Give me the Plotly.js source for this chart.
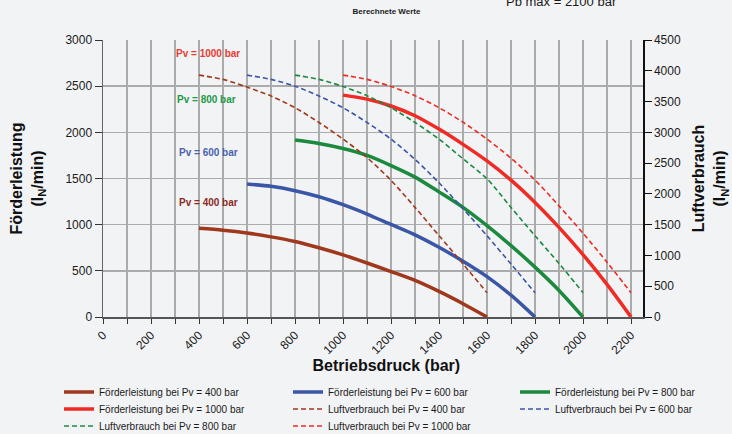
<!DOCTYPE html>
<html>
<head>
<meta charset="utf-8">
<script src="https://cdn.plot.ly/plotly-3.0.1.min.js"></script>
<style>html,body{margin:0;padding:0;background:#f2f3f5;}</style>
</head>
<body>
<div id="chart" style="width:732px;height:434px;"></div>
<script>
// ---- Data ----
// Betriebsdruck (bar) for each curve
const xPv400  = [400, 500, 600, 700, 800, 900, 1000, 1100, 1200, 1300, 1400, 1500, 1600];
const xPv600  = [600, 700, 800, 900, 1000, 1100, 1200, 1300, 1400, 1500, 1600, 1700, 1800];
const xPv800  = [800, 900, 1000, 1100, 1200, 1300, 1400, 1500, 1600, 1700, 1800, 1900, 2000];
const xPv1000 = [1000, 1100, 1200, 1300, 1400, 1500, 1600, 1700, 1800, 1900, 2000, 2100, 2200];

// Förderleistung (l_N/min), left axis
const foerder400  = [960, 940, 910, 868, 818, 750, 673, 585, 492, 396, 277, 144, 0];
const foerder600  = [1440, 1415, 1368, 1302, 1216, 1115, 1002, 890, 755, 604, 437, 236, 0];
const foerder800  = [1917, 1880, 1825, 1750, 1640, 1515, 1355, 1187, 989, 773, 540, 288, 0];
const foerder1000 = [2403, 2360, 2285, 2180, 2035, 1870, 1690, 1482, 1241, 971, 676, 353, 0];

// Luftverbrauch (l_N/min), right axis
const luft400  = [3930, 3860, 3735, 3590, 3400, 3160, 2890, 2590, 2220, 1781, 1322, 863, 394];
const luft600  = [3930, 3860, 3750, 3590, 3400, 3160, 2890, 2560, 2180, 1760, 1320, 860, 395];
const luft800  = [3930, 3860, 3745, 3595, 3400, 3160, 2890, 2570, 2245, 1780, 1320, 870, 395];
const luft1000 = [3930, 3860, 3745, 3595, 3400, 3165, 2890, 2580, 2225, 1805, 1360, 890, 395];

const seriesNames = [
  'Förderleistung bei Pv = 400 bar', 'Förderleistung bei Pv = 600 bar',
  'Förderleistung bei Pv = 800 bar', 'Förderleistung bei Pv = 1000 bar',
  'Luftverbrauch bei Pv = 400 bar', 'Luftverbrauch bei Pv = 600 bar',
  'Luftverbrauch bei Pv = 800 bar', 'Luftverbrauch bei Pv = 1000 bar'
];
const curveLabels = ['Pv = 1000 bar', 'Pv = 800 bar', 'Pv = 600 bar', 'Pv = 400 bar'];
const curveLabelX = [436, 430, 440, 440];
const curveLabelY = [2853, 2355, 1784, 1240];

// ---- Styling ----
const FONT = 'Liberation Sans, Arial, sans-serif';
const BG = '#f2f3f5';
const GRID = '#ababab';
const cBrown = '#a0381e', cBlue = '#3a56a6', cGreen = '#1b8a3e', cRed = '#ef2b24';
const labelColors = ['#ea3a33', '#1e9a48', '#4a62ae', '#8c2a1e'];

// plot area in pixels (for placing legends in paper coordinates)
const PL = 103, PR = 643, PT = 40, PB = 317;

function solid(x, y, name, color, leg) {
  return {x: x, y: y, name: name, type: 'scatter', mode: 'lines', yaxis: 'y', showlegend: true,
          line: {color: color, width: 3.5, shape: 'spline', smoothing: 0.8}, legend: leg};
}
function dashed(x, y, name, color, leg) {
  return {x: x, y: y, name: name, type: 'scatter', mode: 'lines', yaxis: 'y2', showlegend: true,
          line: {color: color, width: 1.6, dash: '5px,3px', shape: 'spline', smoothing: 0.8}, legend: leg};
}

const traces = [
  solid(xPv400, foerder400, seriesNames[0], cBrown, 'legend'),
  solid(xPv600, foerder600, seriesNames[1], cBlue, 'legend2'),
  solid(xPv800, foerder800, seriesNames[2], cGreen, 'legend3'),
  solid(xPv1000, foerder1000, seriesNames[3], cRed, 'legend4'),
  dashed(xPv400, luft400, seriesNames[4], cBrown, 'legend5'),
  dashed(xPv600, luft600, seriesNames[5], cBlue, 'legend6'),
  dashed(xPv800, luft800, seriesNames[6], cGreen, 'legend7'),
  dashed(xPv1000, luft1000, seriesNames[7], cRed, 'legend8')
];

function leg(px, py) {
  return {xref: 'paper', yref: 'paper', x: (px - PL) / (PR - PL), y: (PB - py) / (PB - PT),
          xanchor: 'left', yanchor: 'middle', bgcolor: 'rgba(0,0,0,0)', borderwidth: 0,
          font: {family: FONT, size: 10, color: '#1a1a1a'}, itemwidth: 30, orientation: 'v'};
}
const colX = [59, 288, 515];
const rowY = [392, 409, 426];

const annotations = curveLabels.map((t, i) => ({
  text: t, x: curveLabelX[i], y: curveLabelY[i], xref: 'x', yref: 'y', showarrow: false,
  font: {family: FONT, size: 10, weight: 'bold', color: labelColors[i]}
}));
annotations.push({
  text: 'Pb max = 2100 bar', xref: 'paper', yref: 'paper', x: (561.5 - PL) / (PR - PL), y: (PB - 1) / (PB - PT),
  xanchor: 'center', yanchor: 'middle', showarrow: false,
  font: {family: FONT, size: 13, color: '#1a1a1a'}
});

const layout = {
  width: 732, height: 434,
  margin: {l: PL, r: 732 - PR, t: PT, b: 434 - PB, autoexpand: false},
  paper_bgcolor: BG, plot_bgcolor: BG,
  font: {family: FONT, size: 12, color: '#1a1a1a'},
  hovermode: false,
  showlegend: true,
  title: {text: 'Berechnete Werte', font: {family: FONT, size: 8, weight: 'bold', color: '#1a1a1a'},
          xref: 'container', yref: 'container', x: 386.5 / 732, xanchor: 'center',
          y: 1 - 11 / 434, yanchor: 'middle'},
  xaxis: {
    range: [0, 2250], tick0: 0, dtick: 200, tickangle: -45,
    ticks: 'outside', ticklen: 5, tickcolor: '#333', tickwidth: 1,
    showline: true, linecolor: '#555', linewidth: 1.5,
    showgrid: true, gridcolor: GRID, gridwidth: 1.5, zeroline: false,
    minor: {dtick: 100, ticks: 'outside', ticklen: 5, tickcolor: '#333', showgrid: true, gridcolor: GRID, gridwidth: 1.5},
    tickfont: {family: FONT, size: 12, color: '#1a1a1a'},
    title: {text: '\u200B\u00a0\u00a0\u00a0\u00a0\u00a0\u00a0Betriebsdruck (bar)', font: {family: FONT, size: 16, weight: 'bold', color: '#111'}, standoff: 0}
  },
  yaxis: {
    range: [0, 3000], dtick: 500, ticks: 'outside', ticklen: 7, tickcolor: '#333',
    showline: true, linecolor: '#666', linewidth: 1.5,
    showgrid: true, gridcolor: GRID, gridwidth: 1.5, zeroline: false,
    tickfont: {family: FONT, size: 12, color: '#1a1a1a'},
    title: {text: 'Förderleistung<br>(l<sub>N</sub>/min)', font: {family: FONT, size: 16, weight: 'bold', color: '#111'}, standoff: 18}
  },
  yaxis2: {
    overlaying: 'y', side: 'right', range: [0, 4500], dtick: 500,
    ticks: 'outside', ticklen: 7, tickcolor: '#111',
    showline: true, linecolor: '#111', linewidth: 1.5, showgrid: false, zeroline: false,
    tickfont: {family: FONT, size: 12, color: '#1a1a1a'},
    title: {text: 'Luftverbrauch<br>(l<sub>N</sub>/min)', font: {family: FONT, size: 16, weight: 'bold', color: '#111'}, standoff: 13}
  },
  annotations: annotations,
  legend: leg(colX[0], rowY[0]),
  legend2: leg(colX[1], rowY[0]),
  legend3: leg(colX[2], rowY[0]),
  legend4: leg(colX[0], rowY[1]),
  legend5: leg(colX[1], rowY[1]),
  legend6: leg(colX[2], rowY[1]),
  legend7: leg(colX[0], rowY[2]),
  legend8: leg(colX[1], rowY[2])
};

Plotly.newPlot('chart', traces, layout, {displayModeBar: false, staticPlot: true});
</script>
</body>
</html>
